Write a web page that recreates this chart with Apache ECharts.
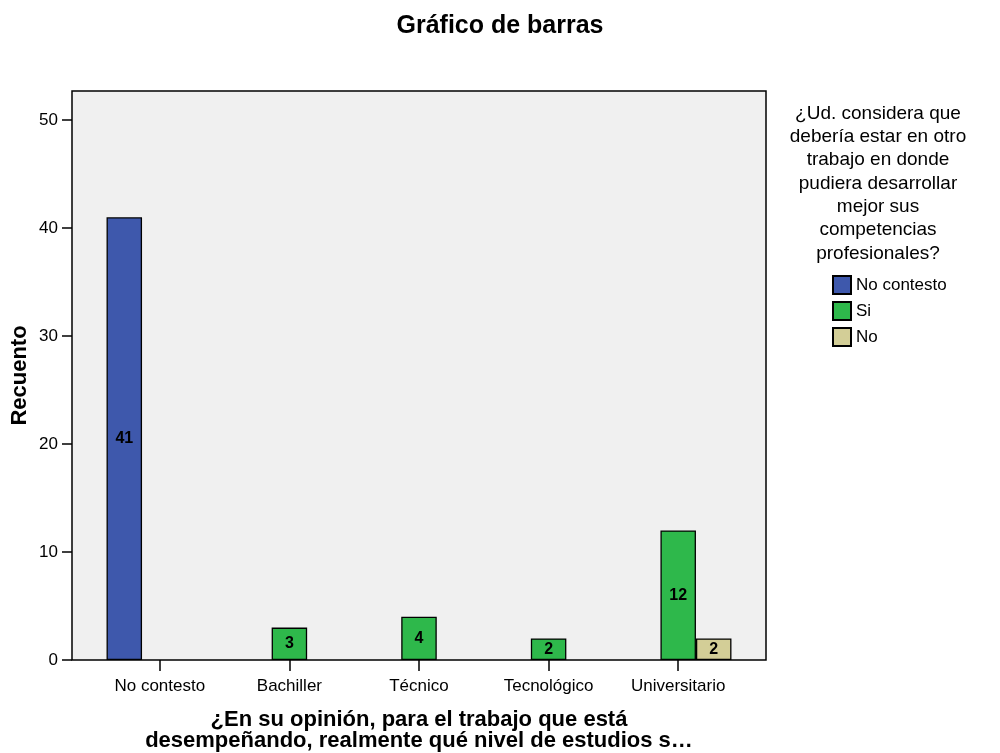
<!DOCTYPE html>
<html>
<head>
<meta charset="utf-8">
<script src="https://cdn.jsdelivr.net/npm/echarts@6/dist/echarts.min.js"></script>
<style>html,body{margin:0;padding:0;background:#fff}#c{width:1000px;height:753px}</style>
</head>
<body>
<div id="c"></div>
<script>
const categories = ['No contesto', 'Bachiller', 'Técnico', 'Tecnológico', 'Universitario'];
const seriesNames = ['No contesto', 'Si', 'No'];
const valuesNoContesto = [41, null, null, null, null];
const valuesSi = [null, 3, 4, 2, 12];
const valuesNo = [null, null, null, null, 2];
const yTicks = [0, 10, 20, 30, 40, 50];
const colors = ['#3E58AC', '#2EB84B', '#D3CE97'];

const FONT = '"Liberation Sans", Arial, sans-serif';
const chart = echarts.init(document.getElementById('c'), null, {renderer: 'canvas'});
const Y_MAX = 52.7;

const seriesData = [valuesNoContesto, valuesSi, valuesNo];
const series = seriesData.map((d, i) => ({
  name: seriesNames[i],
  type: 'bar',
  xAxisIndex: 1,
  yAxisIndex: 1,
  data: d,
  barGap: '0%',
  barCategoryGap: '17.8%',
  itemStyle: {color: colors[i], borderColor: '#000', borderWidth: 1.3},
  label: {
    show: true, position: 'inside', color: '#000',
    fontFamily: FONT, fontWeight: 'bold', fontSize: 16
  },
  z: 3
}));

chart.setOption({
  animation: false,
  backgroundColor: '#fff',
  title: {
    text: 'Gráfico de barras',
    left: 'center', top: 9,
    textStyle: {fontFamily: FONT, fontWeight: 'bold', fontSize: 25, color: '#000'}
  },
  graphic: [
    {
      type: 'text', silent: true,
      style: {
        x: 878, y: 102, textAlign: 'center', textVerticalAlign: 'top',
        text: '¿Ud. considera que\ndebería estar en otro\ntrabajo en donde\npudiera desarrollar\nmejor sus\ncompetencias\nprofesionales?',
        fontFamily: FONT, fontSize: 19, lineHeight: 23.3, fill: '#000'
      }
    }
  ],
  legend: {
    orient: 'vertical', left: 827, top: 270,
    icon: 'rect',
    itemWidth: 18, itemHeight: 18, itemGap: 6,
    textStyle: {fontFamily: FONT, fontSize: 17, color: '#000'},
    data: seriesNames
  },
  grid: [
    {left: 72, right: 234, top: 91, bottom: 93, show: true, outerBoundsMode: 'none', containLabel: false,
     backgroundColor: '#F0F0F0', borderColor: '#000', borderWidth: 1.5, z: 0},
    {left: 95, right: 257, top: 91, bottom: 93, outerBoundsMode: 'none', containLabel: false}
  ],
  xAxis: [
    {gridIndex: 0, type: 'value', show: false, min: 0, max: 1},
    {
      gridIndex: 1,
      type: 'category',
      data: categories,
      name: '¿En su opinión, para el trabajo que está\ndesempeñando, realmente qué nivel de estudios s…',
      nameLocation: 'middle', nameGap: 49, nameMoveOverlap: false,
      nameTextStyle: {fontFamily: FONT, fontWeight: 'bold', fontSize: 22, color: '#000', lineHeight: 21.5},
      axisLine: {show: false},
      axisTick: {show: true, alignWithLabel: true, length: 11, lineStyle: {color: '#000', width: 1.5}},
      axisLabel: {fontFamily: FONT, fontSize: 17, color: '#000', margin: 18},
      splitLine: {show: false}
    }
  ],
  yAxis: [
    {
      gridIndex: 0,
      type: 'value', min: 0, max: Y_MAX, interval: 10,
      name: 'Recuento', nameLocation: 'middle', nameGap: 41, nameMoveOverlap: false,
      nameTextStyle: {fontFamily: FONT, fontWeight: 'bold', fontSize: 22, color: '#000'},
      axisLine: {show: false},
      axisTick: {show: true, length: 10, customValues: yTicks, lineStyle: {color: '#000', width: 1.5}},
      axisLabel: {fontFamily: FONT, fontSize: 17, color: '#000', margin: 14, customValues: yTicks},
      splitLine: {show: false}
    },
    {
      gridIndex: 1,
      type: 'value', min: 0, max: Y_MAX, show: false,
      splitLine: {show: false}
    }
  ],
  series: series
});
</script>
</body>
</html>
